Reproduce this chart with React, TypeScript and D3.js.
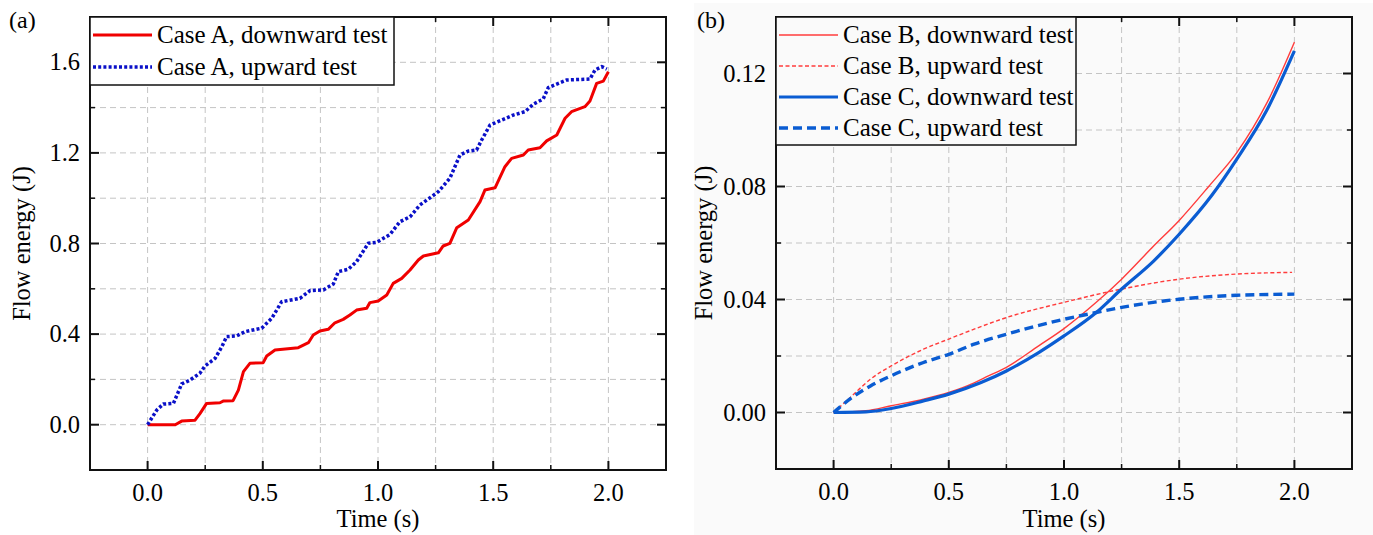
import React from "react";
import * as d3 from "d3";

// ---------- data ----------
const xTickLabels = ["0.0", "0.5", "1.0", "1.5", "2.0"];
const xMajor = [0, 0.5, 1.0, 1.5, 2.0];
const xMinor = [0.25, 0.75, 1.25, 1.75];

const yMajorA = [0, 0.4, 0.8, 1.2, 1.6];
const yMinorA = [0.2, 0.6, 1.0, 1.4];
const yTickLabelsA = ["0.0", "0.4", "0.8", "1.2", "1.6"];

const yMajorB = [0, 0.04, 0.08, 0.12];
const yMinorB = [0.02, 0.06, 0.1];
const yTickLabelsB = ["0.00", "0.04", "0.08", "0.12"];

// Case A, downward test
const caseADownT = [0, 0.12, 0.148, 0.206, 0.228, 0.256, 0.314, 0.33, 0.371, 0.394, 0.416, 0.444, 0.502, 0.517, 0.553, 0.654, 0.698, 0.719, 0.748, 0.784, 0.813, 0.849, 0.878, 0.907, 0.951, 0.965, 1.001, 1.038, 1.066, 1.103, 1.139, 1.175, 1.197, 1.262, 1.283, 1.312, 1.342, 1.392, 1.443, 1.464, 1.508, 1.551, 1.58, 1.631, 1.652, 1.703, 1.732, 1.776, 1.812, 1.84, 1.898, 1.92, 1.949, 1.978, 2.0];
const caseADownE = [0, 0, 0.016, 0.02, 0.05, 0.094, 0.097, 0.105, 0.106, 0.153, 0.234, 0.271, 0.274, 0.303, 0.33, 0.34, 0.362, 0.396, 0.414, 0.421, 0.45, 0.465, 0.484, 0.506, 0.514, 0.539, 0.546, 0.573, 0.624, 0.646, 0.683, 0.727, 0.745, 0.759, 0.789, 0.801, 0.87, 0.904, 0.985, 1.036, 1.046, 1.139, 1.176, 1.191, 1.213, 1.223, 1.253, 1.279, 1.353, 1.382, 1.404, 1.429, 1.507, 1.517, 1.558];

// Case A, upward test
const caseAUpT = [0, 0.04, 0.068, 0.112, 0.148, 0.184, 0.227, 0.249, 0.293, 0.322, 0.343, 0.387, 0.423, 0.495, 0.539, 0.582, 0.661, 0.705, 0.763, 0.806, 0.828, 0.871, 0.907, 0.958, 0.994, 1.052, 1.095, 1.139, 1.182, 1.226, 1.262, 1.312, 1.356, 1.392, 1.428, 1.45, 1.486, 1.537, 1.587, 1.638, 1.674, 1.717, 1.739, 1.783, 1.819, 1.92, 1.942, 1.971, 1.993];
const caseAUpE = [0, 0.065, 0.091, 0.094, 0.18, 0.197, 0.227, 0.259, 0.293, 0.344, 0.389, 0.392, 0.411, 0.426, 0.47, 0.543, 0.558, 0.592, 0.595, 0.621, 0.676, 0.686, 0.72, 0.801, 0.805, 0.84, 0.896, 0.918, 0.97, 1.002, 1.029, 1.088, 1.191, 1.208, 1.213, 1.257, 1.323, 1.345, 1.367, 1.382, 1.415, 1.438, 1.488, 1.507, 1.522, 1.526, 1.566, 1.581, 1.57];

// Case B, downward test
const caseBDownT = [0, 0.14, 0.25, 0.39, 0.5, 0.61, 0.66, 0.75, 0.89, 1.0, 1.14, 1.25, 1.39, 1.5, 1.63, 1.75, 1.88, 2.0];
const caseBDownE = [0, 0.0006, 0.0024, 0.0047, 0.0071, 0.0105, 0.0125, 0.016, 0.0236, 0.0297, 0.039, 0.0472, 0.059, 0.068, 0.0802, 0.092, 0.1095, 0.1311];

// Case B, upward test
const caseBUpT = [0, 0.08, 0.16, 0.25, 0.39, 0.5, 0.61, 0.75, 1.0, 1.25, 1.5, 1.75, 1.99];
const caseBUpE = [0, 0.0059, 0.0118, 0.0165, 0.0224, 0.026, 0.0295, 0.0336, 0.039, 0.0437, 0.0472, 0.049, 0.0496];

// Case C, downward test
const caseCDownT = [0, 0.14, 0.25, 0.39, 0.5, 0.64, 0.75, 0.89, 1.0, 1.14, 1.25, 1.39, 1.5, 1.64, 1.75, 1.88, 2.0];
const caseCDownE = [0, 0.0002, 0.0014, 0.0041, 0.0065, 0.0106, 0.0147, 0.0212, 0.0271, 0.0354, 0.0437, 0.0537, 0.0631, 0.0767, 0.0897, 0.107, 0.128];

// Case C, upward test
const caseCUpT = [0, 0.08, 0.16, 0.25, 0.39, 0.5, 0.61, 0.75, 1.0, 1.14, 1.25, 1.5, 1.75, 2.0];
const caseCUpE = [0, 0.0053, 0.0094, 0.013, 0.0177, 0.0206, 0.0242, 0.0277, 0.033, 0.0354, 0.0372, 0.0401, 0.0415, 0.0419];

// ---------- styling ----------
const FONT = "Liberation Serif, DejaVu Serif, serif";
const TICK_FS = 24.5;
const LEG_FS = 25;

type Series = {
  name: string;
  t: number[];
  e: number[];
  color: string;
  width: number;
  dash?: string;
  smooth?: boolean;
};

type PanelProps = {
  left: number;
  right: number;
  top: number;
  bottom: number;
  yDomain: [number, number];
  yMajor: number[];
  yMinor: number[];
  yLabels: string[];
  yGrid: number[];
  series: Series[];
  legendW: number;
  legendRowH: number;
  tag: string;
  tagX: number;
  yTitleX: number;
  bg: string;
};

function zip(t: number[], e: number[]): [number, number][] {
  return t.map((v, i) => [v, e[i]]);
}

function Panel(p: PanelProps) {
  const x = d3.scaleLinear().domain([-0.25, 2.25]).range([p.left, p.right]);
  const y = d3.scaleLinear().domain(p.yDomain).range([p.bottom, p.top]);
  const xGrid = [...xMajor, ...xMinor];
  const gridColor = "#c4c4c4";
  const MJ = 9;
  const MN = 5;
  const legH = p.legendRowH * p.series.length + 4;
  const txt = { fontFamily: FONT, fontSize: TICK_FS, fill: "#000" } as React.CSSProperties;

  return (
    <g>
      {xGrid.map((v) => (
        <line key={"gx" + v} x1={x(v)} x2={x(v)} y1={p.top} y2={p.bottom} stroke={gridColor} strokeWidth={1} strokeDasharray="6,4" />
      ))}
      {p.yGrid.map((v) => (
        <line key={"gy" + v} x1={p.left} x2={p.right} y1={y(v)} y2={y(v)} stroke={gridColor} strokeWidth={1} strokeDasharray="6,4" />
      ))}

      {p.series.map((s) => {
        const gen = d3
          .line<[number, number]>()
          .x((d) => x(d[0]))
          .y((d) => y(d[1]))
          .curve(s.smooth ? d3.curveMonotoneX : d3.curveLinear);
        return (
          <path key={s.name} d={gen(zip(s.t, s.e)) || ""} fill="none" stroke={s.color} strokeWidth={s.width} strokeDasharray={s.dash} strokeLinejoin="round" />
        );
      })}

      <rect x={p.left} y={p.top} width={p.right - p.left} height={p.bottom - p.top} fill="none" stroke="#111" strokeWidth={2} />

      {xMajor.map((v) => (
        <g key={"tx" + v}>
          <line x1={x(v)} x2={x(v)} y1={p.bottom} y2={p.bottom - MJ} stroke="#111" strokeWidth={2} />
          <line x1={x(v)} x2={x(v)} y1={p.top} y2={p.top + MJ} stroke="#111" strokeWidth={2} />
        </g>
      ))}
      {xMinor.map((v) => (
        <g key={"tmx" + v}>
          <line x1={x(v)} x2={x(v)} y1={p.bottom} y2={p.bottom - MN} stroke="#111" strokeWidth={1.5} />
          <line x1={x(v)} x2={x(v)} y1={p.top} y2={p.top + MN} stroke="#111" strokeWidth={1.5} />
        </g>
      ))}
      {p.yMajor.map((v) => (
        <g key={"ty" + v}>
          <line x1={p.left} x2={p.left + MJ} y1={y(v)} y2={y(v)} stroke="#111" strokeWidth={2} />
          <line x1={p.right} x2={p.right - MJ} y1={y(v)} y2={y(v)} stroke="#111" strokeWidth={2} />
        </g>
      ))}
      {p.yMinor.map((v) => (
        <g key={"tmy" + v}>
          <line x1={p.left} x2={p.left + MN} y1={y(v)} y2={y(v)} stroke="#111" strokeWidth={1.5} />
          <line x1={p.right} x2={p.right - MN} y1={y(v)} y2={y(v)} stroke="#111" strokeWidth={1.5} />
        </g>
      ))}

      {xMajor.map((v, i) => (
        <text key={"lx" + v} x={x(v)} y={p.bottom + 31} textAnchor="middle" style={txt}>
          {xTickLabels[i]}
        </text>
      ))}
      {p.yMajor.map((v, i) => (
        <text key={"ly" + v} x={p.left - 10} y={y(v) + 8} textAnchor="end" style={txt}>
          {p.yLabels[i]}
        </text>
      ))}

      <text x={(p.left + p.right) / 2} y={527} textAnchor="middle" style={txt}>
        Time (s)
      </text>
      <text transform={`translate(${p.yTitleX},${(p.top + p.bottom) / 2}) rotate(-90)`} textAnchor="middle" style={txt}>
        Flow energy (J)
      </text>

      <text x={p.tagX} y={28} style={{ ...txt, fontSize: 24 }}>
        {p.tag}
      </text>

      <rect x={p.left} y={p.top} width={p.legendW} height={legH} fill={p.bg} stroke="#111" strokeWidth={1.5} />
      {p.series.map((s, i) => {
        const cy = p.top + 18 + i * p.legendRowH;
        return (
          <g key={"leg" + s.name}>
            <line x1={p.left + 3} x2={p.left + 62} y1={cy} y2={cy} stroke={s.color} strokeWidth={s.width} strokeDasharray={s.dash} />
            <text x={p.left + 67} y={cy + 8} style={{ ...txt, fontSize: LEG_FS }}>
              {s.name}
            </text>
          </g>
        );
      })}
    </g>
  );
}

export default function App() {
  const seriesA: Series[] = [
    { name: "Case A, downward test", t: caseADownT, e: caseADownE, color: "#f00000", width: 3 },
    { name: "Case A, upward test", t: caseAUpT, e: caseAUpE, color: "#0a10c8", width: 3.5, dash: "3,2.2" },
  ];
  const seriesB: Series[] = [
    { name: "Case B, downward test", t: caseBDownT, e: caseBDownE, color: "#ff3c3c", width: 1.4, smooth: true },
    { name: "Case B, upward test", t: caseBUpT, e: caseBUpE, color: "#ff3c3c", width: 1.4, dash: "4,2.5", smooth: true },
    { name: "Case C, downward test", t: caseCDownT, e: caseCDownE, color: "#0a5cd2", width: 3.2, smooth: true },
    { name: "Case C, upward test", t: caseCUpT, e: caseCUpE, color: "#0a5cd2", width: 3.4, dash: "9,5", smooth: true },
  ];
  return (
    <svg width={1373} height={535} style={{ position: "absolute", left: 0, top: 0, background: "#ffffff" }}>
      <rect x={0} y={0} width={1373} height={535} fill="#ffffff" />
      <rect x={694} y={3} width={679} height={532} fill="#fafafa" />
      <Panel
        left={90}
        right={666}
        top={17}
        bottom={470}
        yDomain={[-0.2, 1.8]}
        yMajor={yMajorA}
        yMinor={yMinorA}
        yLabels={yTickLabelsA}
        yGrid={[...yMajorA, ...yMinorA]}
        series={seriesA}
        legendW={304}
        legendRowH={32}
        tag="(a)"
        tagX={9}
        yTitleX={30}
        bg="#ffffff"
      />
      <Panel
        left={776}
        right={1352}
        top={17}
        bottom={469}
        yDomain={[-0.02, 0.14]}
        yMajor={yMajorB}
        yMinor={yMinorB}
        yLabels={yTickLabelsB}
        yGrid={[...yMajorB, ...yMinorB]}
        series={seriesB}
        legendW={300}
        legendRowH={31}
        tag="(b)"
        tagX={697}
        yTitleX={712}
        bg="#fafafa"
      />
    </svg>
  );
}
